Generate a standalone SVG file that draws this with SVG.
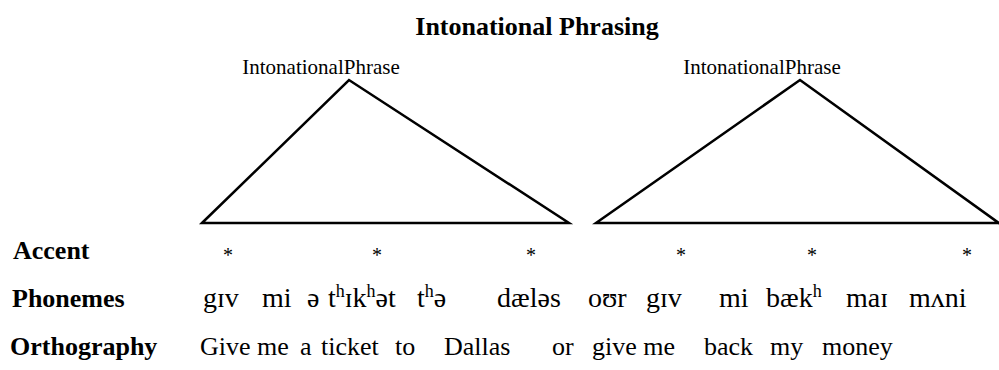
<svg xmlns="http://www.w3.org/2000/svg" width="999" height="370" viewBox="0 0 999 370" font-family="'Liberation Serif','Times New Roman',serif">
<style>
text{font-family:"Liberation Serif","Times New Roman",serif;fill:#000}
.title{font-size:26px;font-weight:bold}
.lab{font-size:26px;font-weight:bold}
.ip{font-size:21px}
.ast{font-size:20px;text-anchor:middle}
.ph{font-size:28px}
.or{font-size:26px}
.sup{font-size:18px}
.tri{fill:none;stroke:#000;stroke-width:2.5;stroke-linejoin:miter}
</style>
<rect width="999" height="370" fill="#fff"/>
<g id="title"><text class="title" x="537" y="35" text-anchor="middle">Intonational Phrasing</text></g>
<g id="ip1"><text class="ip" x="321" y="74" text-anchor="middle">IntonationalPhrase</text></g>
<g id="ip2"><text class="ip" x="762" y="74" text-anchor="middle">IntonationalPhrase</text></g>
<g id="connectors">
<polygon class="tri" points="202,223 349,80 569,223"/>
<polyline class="tri" points="1010,231 800,80 596,223 1010,223"/>
</g>
<g id="labels">
<text class="lab" x="13" y="259">Accent</text>
<text class="lab" x="12" y="307">Phonemes</text>
<text class="lab" x="10" y="355">Orthography</text>
</g>
<g id="accent">
<text class="ast" x="228" y="262">*</text>
<text class="ast" x="377" y="262">*</text>
<text class="ast" x="531" y="262">*</text>
<text class="ast" x="681" y="262">*</text>
<text class="ast" x="812" y="262">*</text>
<text class="ast" x="967" y="262">*</text>
</g>
<g id="phonemes">
<text class="ph" x="203" y="307">gɪv</text>
<text class="ph" x="262" y="307">mi</text>
<text class="ph" x="307" y="307">ə</text>
<text class="ph" x="328" y="307">t<tspan class="sup" dy="-10">h</tspan><tspan dy="10">ɪk</tspan><tspan class="sup" dy="-10">h</tspan><tspan dy="10">ət</tspan></text>
<text class="ph" x="417" y="307">t<tspan class="sup" dy="-10">h</tspan><tspan dy="10">ə</tspan></text>
<text class="ph" x="497" y="307">dæləs</text>
<text class="ph" x="588" y="307">oʊr</text>
<text class="ph" x="646" y="307">gɪv</text>
<text class="ph" x="719" y="307">mi</text>
<text class="ph" x="766" y="307">bæk<tspan class="sup" dy="-10">h</tspan></text>
<text class="ph" x="846" y="307">maɪ</text>
<text class="ph" x="909" y="307">mʌni</text>
</g>
<g id="orthography">
<text class="or" x="200" y="355">Give me</text>
<text class="or" x="300" y="355">a</text>
<text class="or" x="321" y="355">ticket</text>
<text class="or" x="395" y="355">to</text>
<text class="or" x="444" y="355">Dallas</text>
<text class="or" x="552" y="355">or</text>
<text class="or" x="592" y="355">give me</text>
<text class="or" x="704" y="355">back</text>
<text class="or" x="770" y="355">my</text>
<text class="or" x="822" y="355">money</text>
</g>
</svg>
